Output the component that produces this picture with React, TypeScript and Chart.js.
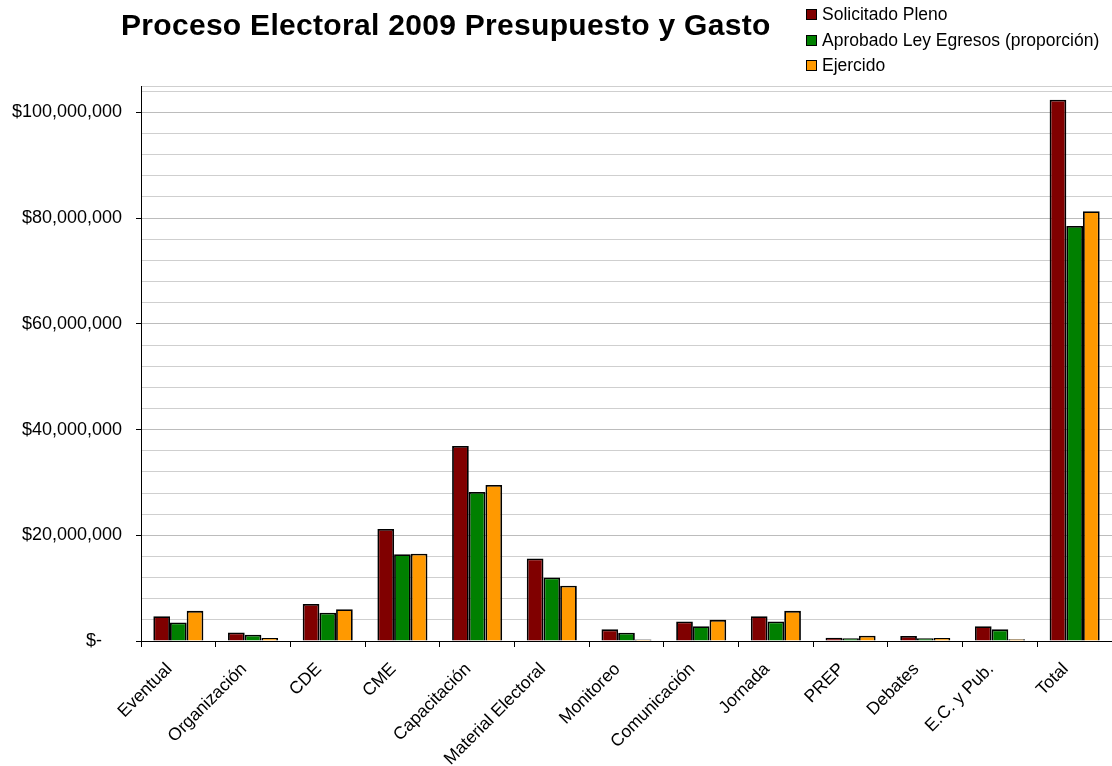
import React, { useEffect, useRef } from "react";
import { Chart, registerables } from "chart.js";

Chart.register(...registerables);

const chartTitle = "Proceso Electoral 2009 Presupuesto y Gasto";
const categories = [
  "Eventual",
  "Organización",
  "CDE",
  "CME",
  "Capacitación",
  "Material Electoral",
  "Monitoreo",
  "Comunicación",
  "Jornada",
  "PREP",
  "Debates",
  "E.C. y Pub.",
  "Total",
];
const seriesNames = ["Solicitado Pleno", "Aprobado Ley Egresos (proporción)", "Ejercido"];
const seriesColors = ["#800000", "#008000", "#FF9900"];
const solicitado = [4700000, 1600000, 7000000, 21200000, 36900000, 15600000, 2200000, 3700000, 4700000, 600000, 950000, 2800000, 102400000];
const aprobado = [3500000, 1200000, 5350000, 16400000, 28200000, 12000000, 1550000, 2800000, 3700000, 500000, 500000, 2200000, 78500000];
const ejercido = [5700000, 550000, 6000000, 16500000, 29500000, 10450000, 300000, 4000000, 5700000, 1000000, 550000, 350000, 81300000];
const yMax = 105000000;
const yMinorStep = 4000000;
const yMajorStep = 20000000;

const FONT = '"Liberation Sans", Arial, sans-serif';

const fmt = (v: number) => (v === 0 ? "$-    " : "$" + v.toLocaleString("en-US"));

const titleLegendPlugin = {
  id: "titleLegend",
  afterDraw(chart: any) {
    const ctx = chart.ctx;
    ctx.save();
    ctx.fillStyle = "#000";
    ctx.font = `bold 30px ${FONT}`;
    ctx.textAlign = "left";
    ctx.textBaseline = "alphabetic";
    try {
      (ctx as any).letterSpacing = "0.3px";
    } catch (e) {}
    ctx.fillText(chartTitle, 121, 35);
    try {
      (ctx as any).letterSpacing = "0px";
    } catch (e) {}
    ctx.font = `17.5px ${FONT}`;
    ctx.textBaseline = "middle";
    const ys = [14, 40, 65];
    chart.data.datasets.forEach((ds: any, i: number) => {
      const y = ys[i];
      ctx.fillStyle = ds.backgroundColor;
      ctx.fillRect(806, y - 5, 11, 11);
      ctx.strokeStyle = "#000";
      ctx.lineWidth = 1;
      ctx.strokeRect(806.5, y - 4.5, 10, 10);
      ctx.fillStyle = "#000";
      ctx.fillText(ds.label, 822, y + 1);
    });
    ctx.restore();
  },
};

export default function App() {
  const ref = useRef<HTMLCanvasElement>(null);
  useEffect(() => {
    if (!ref.current) return;
    const seriesData = [solicitado, aprobado, ejercido];
    const chart = new Chart(ref.current, {
      type: "bar",
      data: {
        labels: categories,
        datasets: seriesNames.map((name, i) => ({
          label: name,
          data: seriesData[i],
          backgroundColor: seriesColors[i],
          borderColor: "#000",
          borderWidth: 1.8,
          categoryPercentage: 0.67,
          barPercentage: 1,
        })),
      },
      options: {
        animation: false,
        responsive: true,
        maintainAspectRatio: false,
        layout: { padding: { top: 86, left: 0, right: 0, bottom: 0 } },
        plugins: {
          legend: { display: false },
          title: { display: false },
          tooltip: { enabled: false },
        },
        scales: {
          x: {
            border: { color: "#000", width: 1 },
            grid: { drawOnChartArea: false, offset: true, tickLength: 6, color: "#000" },
            ticks: {
              autoSkip: false,
              maxRotation: 45,
              minRotation: 45,
              color: "#000",
              font: { family: FONT, size: 17.5 },
              padding: 12,
              labelOffset: -9,
            },
            afterFit(scale: any) {
              scale.height = 125;
            },
          },
          y: {
            min: 0,
            max: yMax,
            border: { color: "#000", width: 1 },
            grid: {
              color: (c: any) => (c.tick && c.tick.value % yMajorStep === 0 ? "#bcbcbc" : "#cfcfcf"),
              tickColor: (c: any) => (c.tick && c.tick.value % yMajorStep === 0 ? "#000" : "rgba(0,0,0,0)"),
              tickLength: 5,
            },
            afterBuildTicks(scale: any) {
              const t: any[] = [];
              for (let v = 0; v <= yMax; v += yMinorStep) t.push({ value: v });
              t.push({ value: yMax });
              scale.ticks = t;
            },
            ticks: {
              padding: 14,
              color: "#000",
              font: { family: FONT, size: 18 },
              autoSkip: false,
              callback: (v: any) => (Number(v) % yMajorStep === 0 ? fmt(Number(v)) : ""),
            },
            afterFit(scale: any) {
              scale.width = 141;
            },
          },
        },
      },
      plugins: [titleLegendPlugin],
    });
    return () => chart.destroy();
  }, []);
  return (
    <div style={{ position: "fixed", left: 0, top: 0, width: 1112, height: 766, background: "#fff" }}>
      <canvas ref={ref} />
    </div>
  );
}
